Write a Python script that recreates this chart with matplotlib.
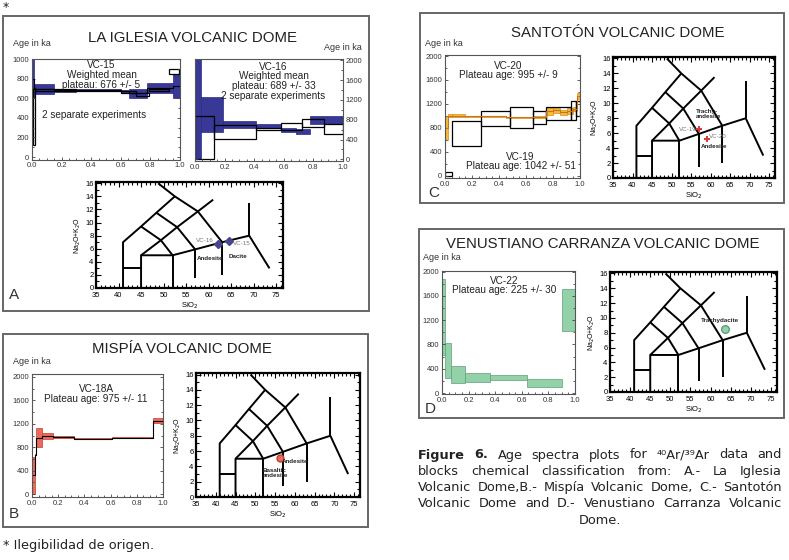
import numpy as np
import matplotlib
matplotlib.use("Agg")
import matplotlib.pyplot as plt
from matplotlib.patches import Rectangle
from matplotlib.ticker import MultipleLocator

W, H = 789, 560

# ---------------- data ----------------
# TAS (total alkali vs silica) field boundaries, SiO2 / Na2O+K2O
tas_sio2 = [
    [41, 41, 45, 48.4, 52.5],
    [48.8, 52.5, 57.6, 63],
    [45, 49.4, 52],
    [48.4, 53, 57],
    [45, 49.4, 53, 57.6, 61],
    [41, 45],
    [45, 45, 52, 57, 63, 69],
    [52, 52],
    [57, 57],
    [63, 63],
    [69, 69],
    [69, 73.5],
]
tas_alk = [
    [0, 7, 9.4, 11.5, 14],
    [16, 14, 11.7, 7],
    [9.4, 7.3, 5],
    [11.5, 9.3, 5.9],
    [5, 7.3, 9.3, 11.7, 13.5],
    [3, 3],
    [0, 5, 5, 5.9, 7, 8],
    [0, 5],
    [1.5, 5.9],
    [2, 7],
    [8, 13],
    [8, 3],
]

# VC-15 (La Iglesia) step heating: cumulative 39Ar fraction, age (ka), error
vc15a_edges = [0, 0.012, 0.15, 0.30, 0.60, 0.655, 0.78, 0.95, 1.0]
vc15a_ages = [800, 695, 680, 683, 672, 650, 705, 725]
vc15a_errs = [200, 52, 18, 10, 15, 48, 50, 118]
vc15b_edges = [0.005, 0.02, 0.30, 0.60, 0.70, 0.79, 0.925, 0.99]
vc15b_ages = [410, 685, 680, 665, 635, 685, 870]
vc15b_errs = [290, 12, 8, 10, 15, 12, 28]

# VC-16
vc16a_edges = [0, 0.04, 0.19, 0.41, 0.58, 0.68, 0.78, 1.0]
vc16a_ages = [1050, 905, 708, 677, 590, 557, 792]
vc16a_errs = [1050, 347, 70, 37, 35, 55, 80]
vc16b_edges = [0, 0.13, 0.41, 0.58, 0.72, 0.87, 1.0]
vc16b_ages = [436, 547, 620, 664, 735, 610]
vc16b_errs = [436, 144, 20, 74, 90, 100]

# VC-18A (Mispia)
vc18_edges = [0, 0.02, 0.032, 0.075, 0.16, 0.32, 0.61, 0.92, 1.0]
vc18_ages = [320, 670, 965, 990, 975, 948, 965, 1250]
vc18_errs = [320, 8, 155, 45, 18, 14, 14, 45]

# VC-20 / VC-19 (Santoton)
vc20_edges = [0, 0.02, 0.05, 0.15, 0.45, 0.65, 0.75, 0.80, 0.85, 0.90, 0.95, 0.98, 1.0]
vc20_ages = [800, 1000, 1005, 990, 975, 985, 1075, 1090, 1060, 1080, 1110, 1330]
vc20_errs = [200, 25, 20, 10, 12, 15, 55, 40, 45, 45, 35, 50]
vc19_edges = [0, 0.05, 0.27, 0.48, 0.65, 0.75, 0.93, 0.97, 1.0]
vc19_ages = [35, 705, 953, 975, 967, 1041, 1091, 1118]
vc19_errs = [35, 208, 124, 174, 110, 102, 152, 125]

# VC-22 (Venustiano Carranza)
vc22_edges = [0, 0.02, 0.07, 0.17, 0.36, 0.64, 0.90, 1.0]
vc22_ages = [1260, 540, 308, 258, 252, 165, 1366]
vc22_errs = [626, 285, 135, 68, 41, 62, 352]

# sample compositions
tasA_x, tasA_y, tasA_lab = [62, 64.5], [6.8, 7.2], ['VC-16', 'VC-15']
tasB_x, tasB_y = [56.3], [5.1]
tasC_x, tasC_y, tasC_lab = [57, 59], [6.5, 5.2], ['VC-19', 'VC-20']
tasD_x, tasD_y = [63.5], [8.5]

caption_lines = [
    [("Figure", "bold"), ("6.", "bold"), ("Age", "normal"), ("spectra", "normal"), ("plots", "normal"),
     ("for", "normal"), ("\u2074\u2070Ar/\u00b3\u2079Ar", "normal"), ("data", "normal"), ("and", "normal")],
    "blocks chemical classification from: A.- La Iglesia",
    "Volcanic Dome,B.- Mispía Volcanic Dome, C.- Santotón",
    "Volcanic Dome and D.- Venustiano Carranza Volcanic",
]

plt.rcParams['font.family'] = ['Liberation Sans', 'DejaVu Sans']

fig = plt.figure(figsize=(W / 100, H / 100), dpi=100)
fig.patch.set_facecolor('white')


def box(l, t, r, b):
    return [l / W, 1 - b / H, (r - l) / W, (b - t) / H]


def ftext(x, y, s, **kw):
    return fig.text(x / W, 1 - y / H, s, **kw)


def frame(l, t, r, b):
    fig.add_artist(Rectangle((l / W, 1 - b / H), (r - l) / W, (b - t) / H, transform=fig.transFigure,
                             fill=False, edgecolor='#666666', linewidth=1.4))


def style_spec(ax, ylim, yticks, right=False):
    ax.set_xlim(0, 1)
    ax.set_ylim(*ylim)
    ax.set_xticks(np.arange(0, 1.01, 0.2))
    ax.set_xticklabels(['0.0', '0.2', '0.4', '0.6', '0.8', '1.0'])
    ax.set_yticks(yticks)
    ax.yaxis.set_minor_locator(MultipleLocator(yticks[1] / 2))
    ax.xaxis.set_minor_locator(MultipleLocator(0.05))
    ax.tick_params(which='both', direction='in', left=True, right=True, top=False,
                   labelsize=5.5, labelcolor='#333333', pad=2, width=0.6, color='#444444')
    ax.tick_params(which='major', length=2.5)
    ax.tick_params(which='minor', length=1.5)
    if right:
        ax.tick_params(labelleft=False, labelright=True)
    for s in ax.spines.values():
        s.set_linewidth(0.8)
        s.set_color('#555555')


def filled(ax, edges, ages, errs, face, edge, line='k'):
    edges = np.asarray(edges, float)
    ages = np.asarray(ages, float)
    errs = np.asarray(errs, float)
    ax.bar(edges[:-1], 2 * errs, width=np.diff(edges), bottom=ages - errs, align='edge',
           color=face, edgecolor=edge, linewidth=0.5)
    if line:
        ax.step(edges, np.append(ages, ages[-1]), where='post', color=line, lw=0.8)


def opened(ax, edges, ages, errs):
    edges = np.asarray(edges, float)
    ages = np.asarray(ages, float)
    errs = np.asarray(errs, float)
    ax.bar(edges[:-1], 2 * errs, width=np.diff(edges), bottom=ages - errs, align='edge',
           fill=False, edgecolor='k', linewidth=0.9)


def tas(ax):
    for xs, ys in zip(tas_sio2, tas_alk):
        ax.plot(xs, ys, color='k', lw=1.4, solid_capstyle='butt')
    ax.set_xlim(35, 76.5)
    ax.set_ylim(0, 16.2)
    ax.set_xticks(range(35, 80, 5))
    ax.set_yticks(range(0, 17, 2))
    ax.xaxis.set_minor_locator(MultipleLocator(1))
    ax.yaxis.set_minor_locator(MultipleLocator(1))
    ax.tick_params(which='both', direction='in', top=True, right=True, width=0.8)
    ax.tick_params(which='major', length=3.5, labelsize=5.5, pad=1.8)
    ax.tick_params(axis='x', which='major', pad=3)
    ax.tick_params(which='minor', length=2.2)
    for s in ax.spines.values():
        s.set_linewidth(1.6)
    ax.set_xlabel('SiO$_2$', fontsize=5.5, labelpad=1)
    ax.set_ylabel('Na$_2$O+K$_2$O', fontsize=5, labelpad=1.5)


lab = dict(fontsize=4.5, fontweight='bold', color='#222222')
gray = dict(fontsize=4.5, color='#777777')
spec_txt = dict(fontsize=7.2, ha='center', va='top', linespacing=0.95, color='#222222')
age_lab = dict(fontsize=6.5, color='#333333', va='center')
title_kw = dict(fontsize=10.8, ha='center', va='center', color='#222222')
cap_kw = dict(fontsize=9.3, family='DejaVu Sans', va='center', color='#222222')

# ---------------- panel A ----------------
frame(3, 16, 369, 311)
ftext(193, 38, 'LA IGLESIA VOLCANIC DOME', **title_kw)
ftext(13, 43, 'Age in ka', ha='left', **age_lab)
ftext(362, 48, 'Age in ka', ha='right', **age_lab)
ftext(9, 295, 'A', fontsize=11, va='center', color='#333333')

ax = fig.add_axes(box(32, 59, 180, 159.5))
filled(ax, vc15a_edges, vc15a_ages, vc15a_errs, '#383896', '#2a2a80')
opened(ax, vc15b_edges, vc15b_ages, vc15b_errs)
style_spec(ax, (-25, 1000), list(range(0, 1001, 200)))
ax.text(0.47, 985, 'VC-15\nWeighted mean\nplateau: 676 +/- 5', **spec_txt)
ax.text(0.07, 425, '2 separate experiments', fontsize=7.2, color='#222222', va='center')

ax = fig.add_axes(box(195, 59, 343, 161))
filled(ax, vc16a_edges, vc16a_ages, vc16a_errs, '#383896', '#2a2a80', line=None)
opened(ax, vc16b_edges, vc16b_ages, vc16b_errs)
style_spec(ax, (-35, 2030), list(range(0, 2001, 400)), right=True)
ax.text(0.53, 1975, 'VC-16\nWeighted mean\nplateau: 689 +/- 33\n2 separate experiments', **spec_txt)

ax = fig.add_axes(box(96, 182, 283, 288))
tas(ax)
ax.plot(tasA_x, tasA_y, 'D', color='#45458f', ms=4.5)
ax.text(tasA_x[0] - 0.8, tasA_y[0] + 0.5, tasA_lab[0], ha='right', va='center', **gray)
ax.text(tasA_x[1] + 0.9, tasA_y[1] - 0.4, tasA_lab[1], ha='left', va='center', **gray)
ax.text(57.3, 4.5, 'Andesite', ha='left', va='center', **lab)
ax.text(64.5, 4.8, 'Dacite', ha='left', va='center', **lab)

# ---------------- panel B ----------------
frame(3, 334, 368, 527)
ftext(182, 349, 'MISPÍA VOLCANIC DOME', **title_kw)
ftext(13, 362, 'Age in ka', ha='left', **age_lab)
ftext(9, 514, 'B', fontsize=11, va='center', color='#333333')

ax = fig.add_axes(box(32, 374, 163, 497))
filled(ax, vc18_edges, vc18_ages, vc18_errs, '#ea6a5c', '#c04030')
style_spec(ax, (-50, 2050), list(range(0, 2001, 400)))
ax.text(0.49, 1880, 'VC-18A\nPlateau age: 975 +/- 11', **spec_txt)

ax = fig.add_axes(box(196, 373, 360, 497))
tas(ax)
ax.plot(tasB_x, tasB_y, 'o', color='#ea6a5c', mec='#c04030', ms=5)
ax.text(56.6, 4.6, 'Andesite', ha='left', va='center', **lab)
ax.text(51.8, 3.1, 'Basaltic\nandesite', ha='left', va='center', linespacing=1.0, **lab)

# ---------------- panel C ----------------
frame(420, 13, 784, 203)
ftext(618, 33, 'SANTOTÓN VOLCANIC DOME', **title_kw)
ftext(425, 43, 'Age in ka', ha='left', **age_lab)
ftext(428, 193, 'C', fontsize=11, va='center', color='#333333')

ax = fig.add_axes(box(445, 55, 580, 178))
filled(ax, vc20_edges, vc20_ages, vc20_errs, '#f4bb3c', '#e38a1c', line='#c8741a')
opened(ax, vc19_edges, vc19_ages, vc19_errs)
style_spec(ax, (-38, 2017), list(range(0, 2001, 400)))
ax.text(0.47, 1920, 'VC-20\nPlateau age: 995 +/- 9', **spec_txt)
ax.text(0.56, 400, 'VC-19\nPlateau age: 1042 +/- 51', **spec_txt)

ax = fig.add_axes(box(613, 57, 775, 178))
tas(ax)
ax.plot(tasC_x, tasC_y, 'P', color='#d83a3a', ms=5, mew=0)
ax.text(tasC_x[0] - 0.6, tasC_y[0], tasC_lab[0], ha='right', va='center', **gray)
ax.text(tasC_x[1] + 0.6, tasC_y[1] + 0.4, tasC_lab[1], ha='left', va='center', **gray)
ax.text(56.2, 8.6, 'Trachy-\nandesite', ha='left', va='center', linespacing=1.0, **lab)
ax.text(57.5, 4.2, 'Andesite', ha='left', va='center', **lab)

# ---------------- panel D ----------------
frame(419, 229, 784, 418)
ftext(603, 244, 'VENUSTIANO CARRANZA VOLCANIC DOME', **title_kw)
ftext(423, 258, 'Age in ka', ha='left', **age_lab)
ftext(425, 409, 'D', fontsize=11, va='center', color='#333333')

ax = fig.add_axes(box(442, 271, 575, 394))
filled(ax, vc22_edges, vc22_ages, vc22_errs, '#93d1a9', '#5f9f78', line=None)
style_spec(ax, (-15, 2010), list(range(0, 2001, 400)))
ax.text(0.47, 1930, 'VC-22\nPlateau age: 225 +/- 30', **spec_txt)

ax = fig.add_axes(box(610, 272, 777, 392))
tas(ax)
ax.plot(tasD_x, tasD_y, 'o', color='#93d1a9', mec='#5f9f78', ms=5.5)
ax.text(62.3, 9.6, 'Trachydacite', ha='center', va='center', **lab)

# ---------------- caption ----------------
ftext(3, 7, '*', fontsize=9, family='DejaVu Sans', va='center', color='#222222')
ftext(3, 545, '* Ilegibilidad de origen.', **cap_kw)

renderer = fig.canvas.get_renderer()
cap_left, cap_right = 418, 782
cap_y = [455, 471.5, 487.5, 503.5]
for y, line in zip(cap_y, caption_lines):
    words = line if isinstance(line, list) else [(w, 'normal') for w in line.split()]
    arts = [ftext(0, y, w, fontweight=wt, **cap_kw) for w, wt in words]
    widths = [a.get_window_extent(renderer).width for a in arts]
    gap = (cap_right - cap_left - sum(widths)) / (len(arts) - 1)
    x = cap_left
    for a, w in zip(arts, widths):
        a.set_x(x / W)
        x += w + gap
ftext(600, 520, 'Dome.', ha='center', **{k: v for k, v in cap_kw.items()})

fig.savefig('out.png', dpi=100)
